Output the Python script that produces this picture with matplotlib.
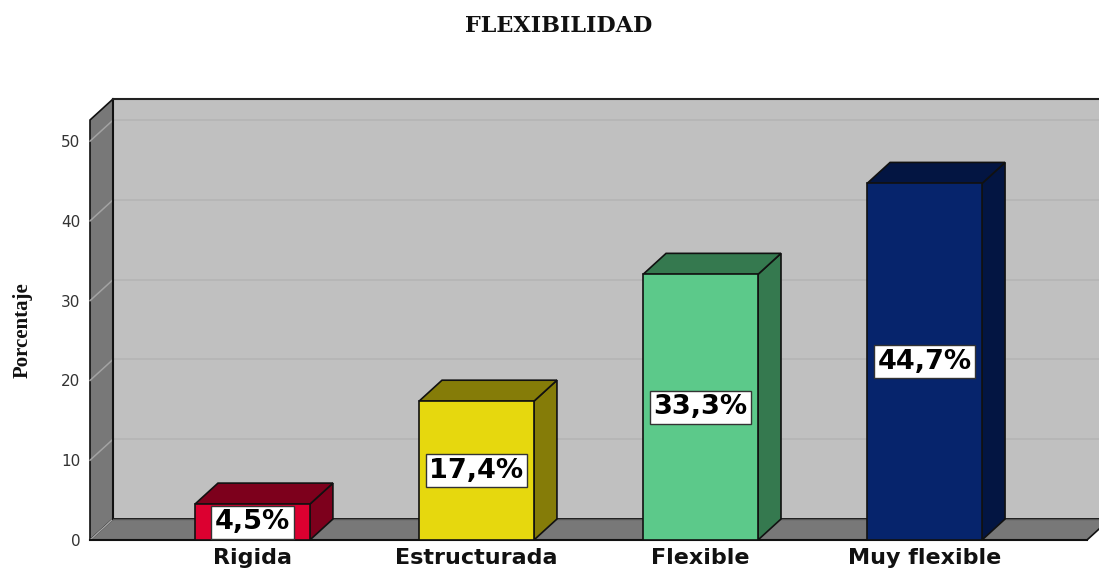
import matplotlib
matplotlib.use('Agg')
import matplotlib.pyplot as plt
from matplotlib.patches import Polygon

# Datos
categorias = ['Rigida', 'Estructurada', 'Flexible', 'Muy flexible']
porcentajes = [4.5, 17.4, 33.3, 44.7]
etiquetas = ['4,5%', '17,4%', '33,3%', '44,7%']
colores_frente = ['#dc0030', '#e6d80e', '#5cc98a', '#06246c']
colores_lado = ['#7d001c', '#857c08', '#35794f', '#031542']
ticks_y = [0, 10, 20, 30, 40, 50]

W, H = 1099, 571
ANCHO = 0.513
# Profundidad del efecto 3D en unidades de datos
DX = 23 / 224
DY = 21 / 7.98
X_MIN, X_MAX = -0.725, 3.725
Y_MAX = 52.65

fig = plt.figure(figsize=(W / 100, H / 100), dpi=100, facecolor='white')
ax = fig.add_axes([90 / W, (H - 540) / H, (1087 - 90) / W, (540 - 120) / H])
ax.set_xlim(X_MIN, X_MAX)
ax.set_ylim(0, Y_MAX)
for s in ax.spines.values():
    s.set_visible(False)
ax.patch.set_visible(False)


def poligono(puntos, color, z, lw=1.2):
    ax.add_patch(Polygon(puntos, closed=True, facecolor=color, edgecolor='#111111',
                         linewidth=lw, zorder=z, clip_on=False, joinstyle='miter'))


# Paredes y piso
poligono([(X_MIN + DX, DY), (X_MAX + DX, DY), (X_MAX + DX, Y_MAX + DY), (X_MIN + DX, Y_MAX + DY)], '#c0c0c0', 1)
poligono([(X_MIN, 0), (X_MIN + DX, DY), (X_MIN + DX, Y_MAX + DY), (X_MIN, Y_MAX)], '#787878', 2)
poligono([(X_MIN, 0), (X_MAX, 0), (X_MAX + DX, DY), (X_MIN + DX, DY)], '#787878', 2)

# Rejilla
for t in ticks_y[1:] + [Y_MAX]:
    ax.plot([X_MIN + DX, X_MAX + DX], [t + DY, t + DY], color='#b3b3b3', lw=1.1, zorder=3, clip_on=False)
for t in ticks_y[:-1] + [50]:
    ax.plot([X_MIN, X_MIN + DX], [t, t + DY], color='#a3a3a3', lw=1.1, zorder=3, clip_on=False)
ax.plot([X_MIN + DX, X_MIN + DX], [DY, Y_MAX + DY], color='#111111', lw=1.5, zorder=4, clip_on=False)
ax.plot([X_MIN + DX, X_MAX + DX], [DY, DY], color='#555555', lw=1.0, zorder=4, clip_on=False)
ax.plot([X_MIN + DX, X_MAX + DX], [Y_MAX + DY, Y_MAX + DY], color='#222222', lw=1.5, zorder=4, clip_on=False)

# Barras
for i, v in enumerate(porcentajes):
    x0 = i - ANCHO / 2
    x1 = i + ANCHO / 2
    poligono([(x1, 0), (x1 + DX, DY), (x1 + DX, v + DY), (x1, v)], colores_lado[i], 5)
    poligono([(x0, v), (x1, v), (x1 + DX, v + DY), (x0 + DX, v + DY)], colores_lado[i], 5)
    poligono([(x0, 0), (x1, 0), (x1, v), (x0, v)], colores_frente[i], 6)
    ax.text(i, v / 2, etiquetas[i], ha='center', va='center', fontsize=19.5, fontweight='bold',
            family='DejaVu Sans', color='black', zorder=8,
            bbox=dict(boxstyle='square,pad=0.13', facecolor='white', edgecolor='#333333', linewidth=1))

ax.plot([X_MIN, X_MAX], [0, 0], color='#111111', lw=1.5, zorder=4, clip_on=False)

# Ejes
ax.set_xticks(range(len(categorias)))
ax.set_xticklabels(categorias, fontsize=16, fontweight='bold', family='DejaVu Sans', color='#111111')
ax.set_yticks(ticks_y)
ax.set_yticklabels([str(t) for t in ticks_y], fontsize=11, family='DejaVu Sans', color='#333333')
ax.tick_params(axis='both', length=0)
ax.tick_params(axis='x', pad=6)
ax.tick_params(axis='y', pad=7)

fig.text(559 / W, 1 - 26 / H, 'FLEXIBILIDAD', ha='center', va='center', fontsize=16,
         fontweight='bold', family='DejaVu Serif', color='#111111')
fig.text(23 / W, 1 - 330 / H, 'Porcentaje', ha='center', va='center', rotation=90, fontsize=15,
         fontweight='bold', family='Liberation Serif', color='#111111')

fig.savefig('out.png', dpi=100)
